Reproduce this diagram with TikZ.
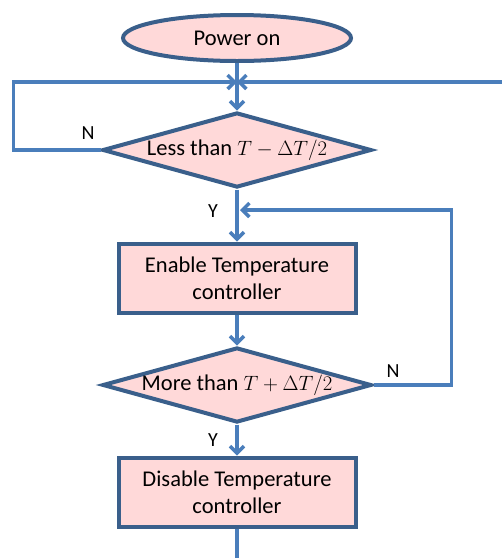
\documentclass[tikz,border=0pt]{standalone}
\usepackage{fontspec}
\setmainfont{Carlito}
\usetikzlibrary{arrows.meta, positioning, shapes.geometric}
\definecolor{linkblue}{RGB}{74,126,187}
\definecolor{edgeblue}{RGB}{58,95,139}
\definecolor{boxpink}{RGB}{255,217,217}

\begin{document}
\begin{tikzpicture}[x=1pt, y=-1pt, node distance=107pt,
    >={Straight Barb[length=7pt, width=14pt, line width=3.5pt]},
    base node/.style={draw=edgeblue, fill=boxpink, line width=4pt, inner sep=0pt, align=center, font=\fontsize{22.5}{27}\selectfont},
    start node/.style={base node, ellipse, minimum width=228pt, minimum height=46pt},
    test node/.style={base node, diamond, aspect=3.6, minimum width=269pt, minimum height=75pt},
    task node/.style={base node, rectangle, minimum width=237pt, minimum height=69pt},
    link/.style={draw=linkblue, line width=3.5pt, ->},
    tag/.style={font=\fontsize{20}{22}\selectfont}]

    \useasboundingbox (0,0) rectangle (502,558);

    % Nodes
    \node[start node] (power) at (237,38) {Power on};
    \node[test node] (less) [below of=power, yshift=-5pt] {Less than $T-\Delta T/2$};
    \node[task node] (enable) [below of=less, yshift=-21pt] {Enable Temperature\\controller};
    \node[test node] (more) [below of=enable] {More than $T+\Delta T/2$};
    \node[task node] (disable) [below of=more] {Disable Temperature\\controller};

    % Free ends
    \coordinate (merge) at (237,82);
    \coordinate (edgein) at (502,82);
    \coordinate (reenter) at (240,210);
    \coordinate (exit) at (237,558);

    % Arrows between nodes
    \draw[link] (power) -- (less);
    \draw[link] (less.west) -- ++(-87pt,0) |- (merge);
    \draw[link] (edgein) -- (merge);
    \draw[link] (less) -- (enable);
    \draw[link] (enable) -- (more);
    \draw[link] (more.east) -- ++(78pt,0) |- (reenter);
    \draw[link] (more) -- (disable);
    \draw[draw=linkblue, line width=3.5pt] (disable) -- (exit);

    % Branch labels
    \node[tag] (no1) at (88,133) {N};
    \node[tag] (yes1) at (213,211) {Y};
    \node[tag] (no2) at (393,371) {N};
    \node[tag] (yes2) at (213,440) {Y};

\end{tikzpicture}
\end{document}
